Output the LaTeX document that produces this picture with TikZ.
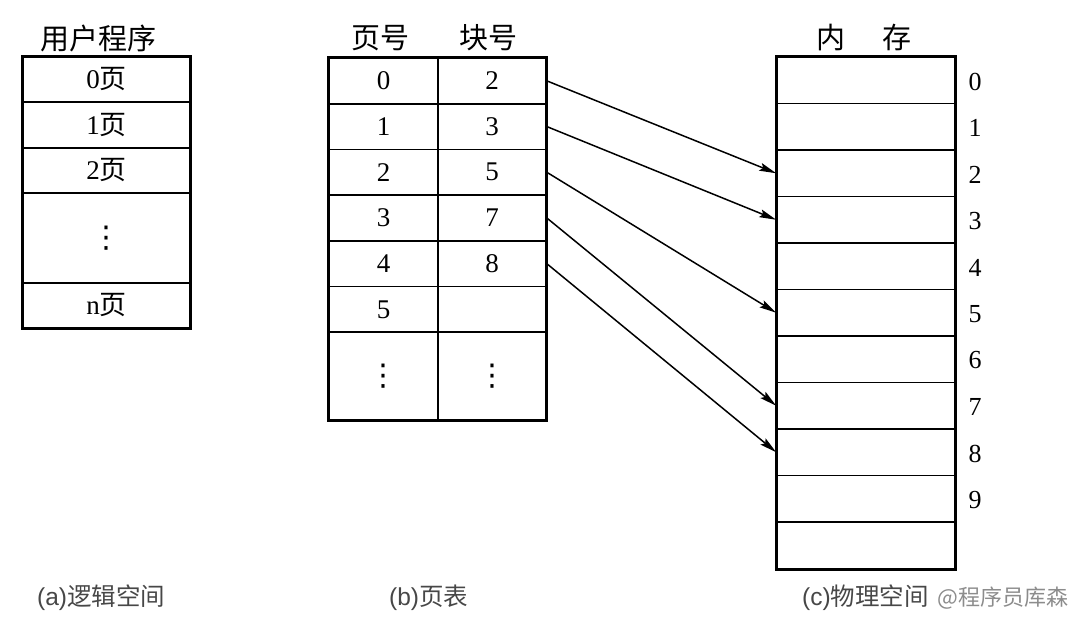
\documentclass[tikz,border=0pt]{standalone}
\usepackage{fontspec}
\setmainfont{Liberation Serif}
\newfontfamily\cjk{Noto Sans CJK SC}
\newfontfamily\capfont{Liberation Sans}
\newfontfamily\symfont{DejaVu Sans}
\usetikzlibrary{arrows.meta}
\newcommand{\vdotsym}{{\symfont\fontsize{30}{30}\selectfont ⋮}}
\begin{document}
\begin{tikzpicture}[x=1pt,y=-1pt,
  cell/.style={draw, line width=1.6pt, inner sep=0pt, font=\fontsize{27}{27}\selectfont},
  frame/.style={draw, line width=2.6pt},
  title/.style={inner sep=0pt, font=\fontsize{29}{29}\selectfont\cjk},
  numlabel/.style={inner sep=0pt, font=\fontsize{26}{26}\selectfont},
  caption/.style={inner sep=0pt, anchor=west, text=black!72, font=\fontsize{24.5}{24.5}\selectfont\capfont},
  arr/.style={line width=1.5pt, -{Stealth[length=17pt,width=8pt,inset=3pt]}}
]
\useasboundingbox (0,0) rectangle (1080,640);

% (a) user program
\node[title] (ut) at (99,38) {用户程序};
\node[cell, minimum width=167pt, minimum height=45pt] (u0) at (106.5,79.5) {0{\cjk 页}};
\node[cell, minimum width=167pt, minimum height=46pt] (u1) at (106.5,125) {1{\cjk 页}};
\node[cell, minimum width=167pt, minimum height=45pt] (u2) at (106.5,170.5) {2{\cjk 页}};
\node[cell, minimum width=167pt, minimum height=90pt] (ud) at (106.5,238) {\vdotsym};
\node[cell, minimum width=167pt, minimum height=45pt] (un) at (106.5,305.5) {n{\cjk 页}};
\draw[frame] (u0.north west) rectangle (un.south east);

% (b) page table
\node[title] (ph) at (380,38) {页号};
\node[title] (bh) at (488,38) {块号};
\foreach \i/\p/\b in {0/0/2,1/1/3,2/2/5,3/3/7,4/4/8,5/5/} {
  \pgfmathsetmacro{\yy}{80.85+45.7*\i}
  \node[cell, minimum width=109pt, minimum height=45.7pt] (p\i) at (383.5,\yy) {\p};
  \node[cell, minimum width=108pt, minimum height=45.7pt] (b\i) at (492,\yy) {\b};
}
\node[cell, minimum width=109pt, minimum height=87.8pt] (pd) at (383.5,376.1) {\vdotsym};
\node[cell, minimum width=108pt, minimum height=87.8pt] (bd) at (492,376.1) {\vdotsym};
\draw[frame] (p0.north west) rectangle (bd.south east);

% (c) memory
\node[title] (mt) at (864,38) {内\hspace{38pt}存};
\foreach \i in {0,...,10} {
  \pgfmathsetmacro{\yy}{57+46.5*\i+23.25}
  \node[cell, minimum width=178pt, minimum height=46.5pt] (m\i) at (866,\yy) {};
}
\foreach \i in {0,...,9} {
  \pgfmathsetmacro{\yy}{57+46.5*\i+24.5}
  \node[numlabel] (l\i) at (975,\yy) {\i};
}
\draw[frame] (m0.north west) rectangle (m10.south east);

% mapping arrows
\foreach \a/\m in {0/2,1/3,2/5,3/7,4/8}
  \draw[arr] (b\a.east) -- (m\m.west);

% captions
\node[caption] (ca) at (37,598) {(a){\cjk 逻辑空间}};
\node[caption] (cb) at (389,598) {(b){\cjk 页表}};
\node[caption] (cc) at (802,598) {(c){\cjk 物理空间}};
\node[caption, text=black!45, font=\fontsize{22}{22}\selectfont\cjk] (wm) at (937,598) {@程序员库森};
\end{tikzpicture}
\end{document}
